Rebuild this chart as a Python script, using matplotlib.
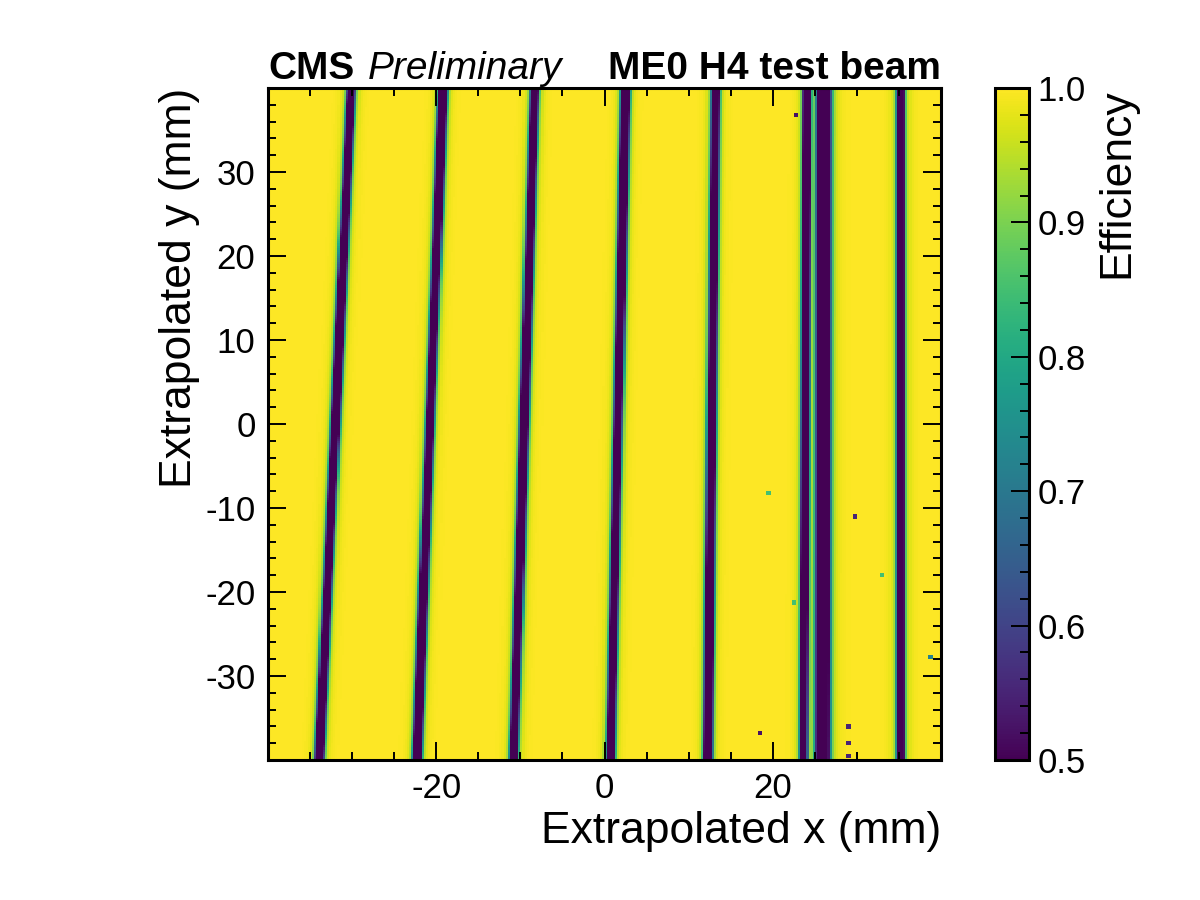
import numpy as np
import matplotlib
matplotlib.use("Agg")
import matplotlib.pyplot as plt
from matplotlib.ticker import MultipleLocator

# ---------------- data ----------------
# inefficient boundary lines: x position (mm) at bottom (y=-40) and top (y=+40)
gap_x_bottom = [-33.9, -22.3, -10.8, 0.7, 12.3, 23.65, 25.9, 35.2]
gap_x_top    = [-30.1, -19.2, -8.3, 2.5, 13.2, 24.05, 26.05, 35.2]
gap_half_width = [0.55, 0.55, 0.55, 0.55, 0.55, 0.48, 0.88, 0.52]   # mm
gap_depth      = [0.58, 0.58, 0.58, 0.58, 0.58, 0.58, 0.58, 0.58]
halo_depth     = [0.03, 0.03, 0.03, 0.03, 0.03, 0.04, 0.04, 0.04]
halo_width     = [1.1, 1.1, 1.1, 1.1, 1.1, 1.0, 1.5, 1.1]

# isolated low-efficiency cells
spot_x   = [18.6, 28.9, 28.9, 28.9, 29.8, 22.7, 38.8, 19.5, 22.5, 33.0]
spot_y   = [-36.8, -36.1, -38.1, -39.6, -10.9, 36.8, -27.8, -8.2, -21.3, -18.0]
spot_eff = [0.52, 0.55, 0.55, 0.55, 0.55, 0.52, 0.72, 0.85, 0.85, 0.85]

x_range = (-40.0, 40.0)
y_range = (-40.0, 40.0)
n_bins = 320

# ---------------- build efficiency map ----------------
xe = np.linspace(x_range[0], x_range[1], n_bins + 1)
ye = np.linspace(y_range[0], y_range[1], n_bins + 1)
xc = 0.5 * (xe[:-1] + xe[1:])
yc = 0.5 * (ye[:-1] + ye[1:])
X, Y = np.meshgrid(xc, yc)
eff = np.ones_like(X)
frac = (Y - y_range[0]) / (y_range[1] - y_range[0])
for xb, xt, h, dep, hd, hw in zip(gap_x_bottom, gap_x_top, gap_half_width,
                                  gap_depth, halo_depth, halo_width):
    centre = xb + (xt - xb) * frac
    d = np.abs(X - centre)
    e = 1.0 - dep / (1.0 + (d / h) ** 6) - hd / (1.0 + (d / hw) ** 4)
    eff = np.minimum(eff, e)
for sx, sy, se in zip(spot_x, spot_y, spot_eff):
    near = (np.abs(X - sx) < 0.26) & (np.abs(Y - sy) < 0.26)
    eff[near] = np.minimum(eff[near], se)

# ---------------- style ----------------
plt.rcParams['font.family'] = ['Liberation Sans', 'DejaVu Sans']
plt.rcParams['axes.unicode_minus'] = False

fig = plt.figure(figsize=(12, 9), dpi=100)
ax = fig.add_axes([268 / 1200, 1 - 760 / 900, 673 / 1200, 672 / 900])
cax = fig.add_axes([995 / 1200, 1 - 760 / 900, 34 / 1200, 672 / 900])

mesh = ax.pcolormesh(xe, ye, eff, cmap='viridis', vmin=0.5, vmax=1.0,
                     shading='flat', rasterized=True)
ax.set_xlim(*x_range)
ax.set_ylim(*y_range)

ax.set_xticks([-20, 0, 20])
ax.xaxis.set_minor_locator(MultipleLocator(5))
ax.set_yticks([-30, -20, -10, 0, 10, 20, 30])
ax.yaxis.set_minor_locator(MultipleLocator(2))

for s in ax.spines.values():
    s.set_linewidth(2.2)

ax.tick_params(which='both', direction='in', top=True, right=True,
               labelsize=25, width=1.4)
ax.tick_params(which='major', length=13, pad=9)
ax.tick_params(which='minor', length=5.5)

ax.set_xlabel('Extrapolated x (mm)', fontsize=32, loc='right')
ax.set_ylabel('Extrapolated y (mm)', fontsize=32, loc='top')

cb = fig.colorbar(mesh, cax=cax)
cb.outline.set_linewidth(2.2)
cb.set_ticks([0.5, 0.6, 0.7, 0.8, 0.9, 1.0])
cb.ax.yaxis.set_minor_locator(MultipleLocator(0.02))
cb.ax.tick_params(which='both', direction='in', labelsize=25, width=1.4)
cb.ax.tick_params(which='major', length=13, pad=6)
cb.ax.tick_params(which='minor', length=6.5)
cb.set_label('Efficiency', fontsize=32, loc='top', labelpad=8)

# header texts
ax.text(0.0, 1.013, 'CMS', transform=ax.transAxes, fontsize=28,
        fontweight='bold', ha='left', va='baseline')
ax.text(0.148, 1.013, 'Preliminary', transform=ax.transAxes, fontsize=28,
        fontstyle='italic', ha='left', va='baseline')
ax.text(1.0, 1.013, 'ME0 H4 test beam', transform=ax.transAxes, fontsize=28,
        fontweight='bold', ha='right', va='baseline')

fig.savefig('out.png', dpi=100)
